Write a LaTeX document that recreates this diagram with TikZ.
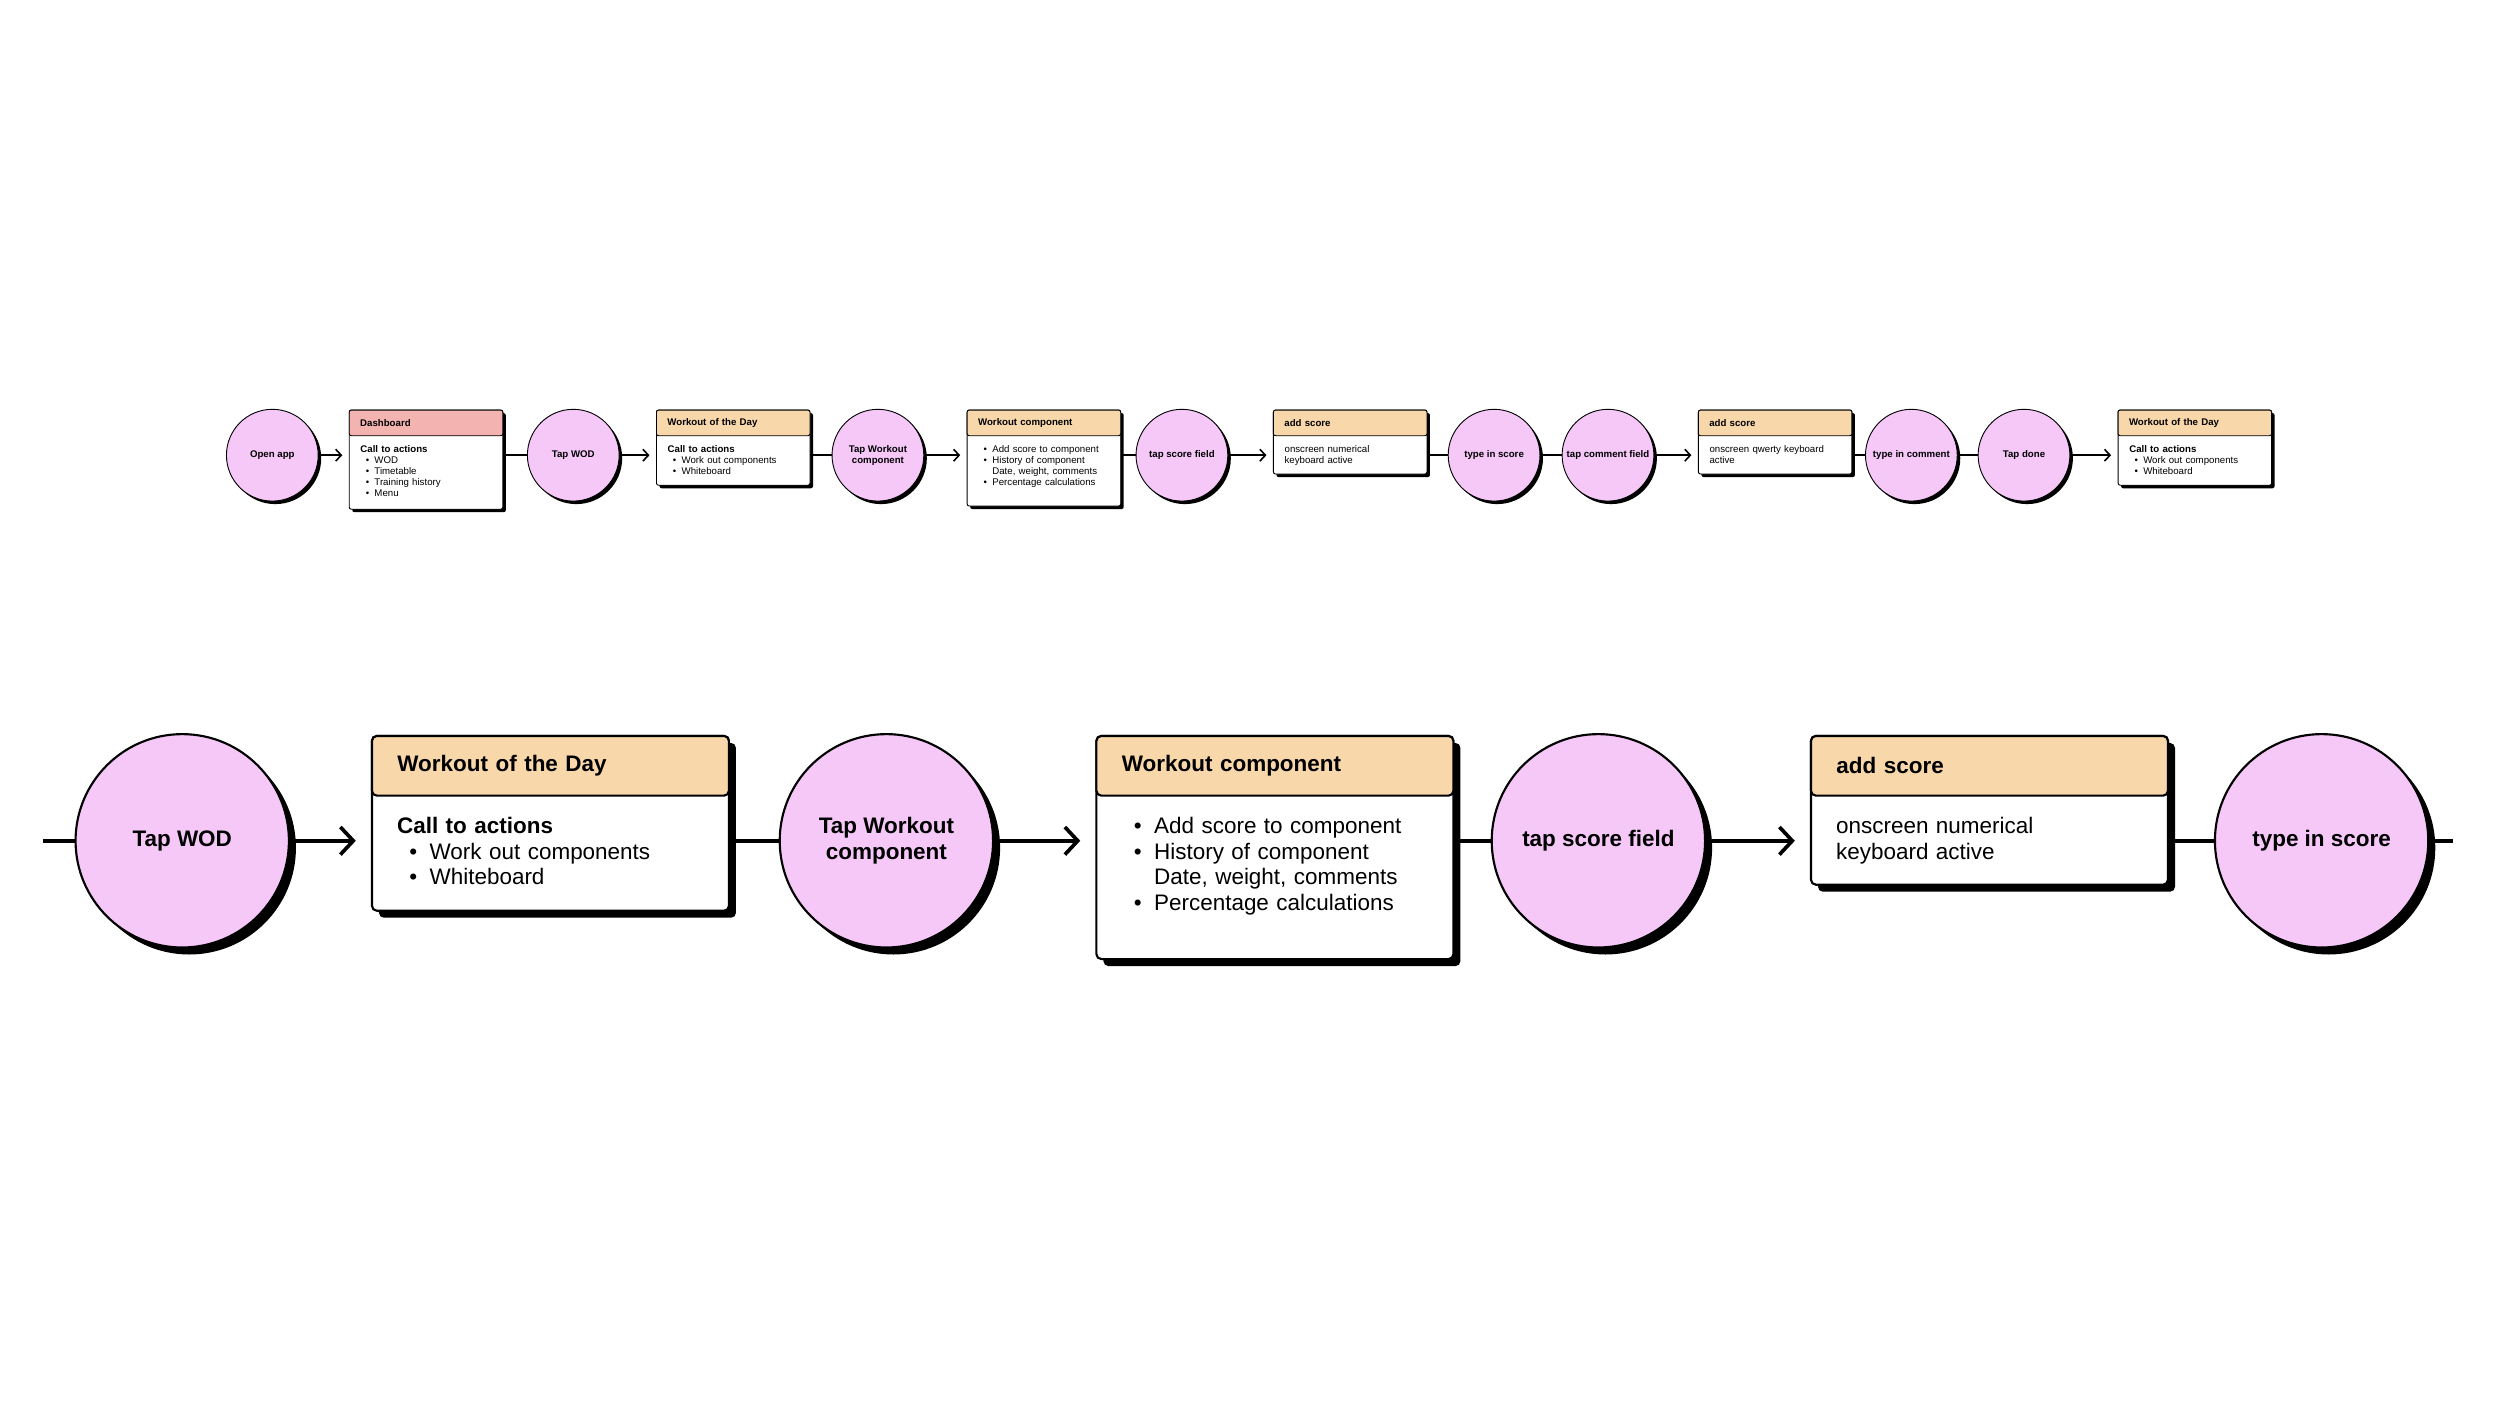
\documentclass[tikz,border=0pt]{standalone}
\usepackage{fontspec}
\setmainfont{Liberation Sans}
\usepackage{tikz}
\usetikzlibrary{shadows, arrows.meta}
\usepackage{xcolor}

\definecolor{tappink}{HTML}{F5C8F8}
\definecolor{headpeach}{HTML}{F8D7AA}
\definecolor{headrose}{HTML}{F2B3B1}

% sizes of one row, #1 = zoom factor
\newcommand\setrow[1]{%
  \pgfmathsetmacro\zf{#1}%
  \pgfmathsetmacro\fsz{2.75*#1}%
  \pgfmathsetmacro\bsk{3.12*#1}%
  \pgfmathsetlengthmacro\cardw{1.536cm*#1}%
  \pgfmathsetlengthmacro\padx{3.12pt*#1}%
  \pgfmathsetlengthmacro\textw{(1.536cm-6.24pt)*#1}%
  \pgfmathsetlengthmacro\headh{0.257cm*#1}%
  \pgfmathsetlengthmacro\pady{2.45pt*#1}%
  \pgfmathsetlengthmacro\lw{0.26pt*#1}%
  \pgfmathsetlengthmacro\cw{0.45pt*#1}%
  \pgfmathsetlengthmacro\rc{0.6pt*#1}%
  \pgfmathsetlengthmacro\gap{1.85pt*#1}%
  \pgfmathsetlengthmacro\shx{0.86pt*#1}%
}

\newcommand\itm{\hspace*{0.55em}\makebox[0.9em][l]{\textbullet}}
\newcommand\cont{\hspace*{1.45em}}

% name, position, height, header colour, title, body
\newcommand\card[6]{%
  \node[card, minimum height=#3cm*\zf] (#1) at #2 {};
  \node[head, fill=#4] (#1-t) at (#1.north west) {#5};
  \node[body] (#1-b) at (#1-t.south west) {#6};
}

\tikzset{
  shade drop/.style={drop shadow={shadow xshift=\shx, shadow yshift=-\shx, fill=black, opacity=1}},
  tap/.style={circle, draw, line width=\lw, fill=tappink, minimum size=\zf*0.918cm, inner sep=0pt,
    align=center, font=\bfseries\fontsize{\fsz}{\bsk}\selectfont, shade drop},
  card/.style={draw, line width=\lw, fill=white, rounded corners=\rc, minimum width=\cardw,
    anchor=north west, inner sep=0pt, shade drop},
  head/.style={draw, line width=\lw, rounded corners=\rc, minimum width=\cardw, text width=\textw,
    minimum height=\headh, inner xsep=\padx, inner ysep=0pt, anchor=north west, align=left,
    font=\bfseries\fontsize{\fsz}{\bsk}\selectfont},
  body/.style={text width=\textw, inner xsep=\padx, inner ysep=\pady, anchor=north west, align=left,
    font=\fontsize{\fsz}{\bsk}\selectfont},
  link/.style={line width=\cw},
  go/.style={link, -{Straight Barb[length=0pt 3.5, width=0pt 7.5]}, shorten >=\gap},
}

\begin{document}
\begin{tikzpicture}[x=0.016cm, y=-0.016cm]
\useasboundingbox (0,0) rectangle (1562.5,878.75);

% whole flow
\setrow{1}
\foreach \x/\n/\t in {170.2/open/Open app, 358.3/tapwod/Tap WOD, 548.7/tapwc/{Tap Workout\\component},
    738.7/tapsf/tap score field, 933.8/typesc/type in score, 1005/tapcf/tap comment field,
    1194.6/typecm/type in comment, 1265/tapdone/Tap done}
  \node[tap] (\n) at (\x,284.5) {\t};

\card{dash}{(218,256)}{0.992}{headrose}{Dashboard}
  {\textbf{Call to actions}\\\itm WOD\\\itm Timetable\\\itm Training history\\\itm Menu}
\card{wod}{(410,256)}{0.752}{headpeach}{Workout of the Day}
  {\textbf{Call to actions}\\\itm Work out components\\\itm Whiteboard}
\card{comp}{(604.2,256)}{0.96}{headpeach}{Workout component}
  {\itm Add score to component\\\itm History of component\\\cont Date, weight, comments\\\itm Percentage calculations}
\card{addnum}{(795.6,256)}{0.64}{headpeach}{add score}
  {onscreen numerical\\keyboard active}
\card{addkey}{(1061.2,256)}{0.64}{headpeach}{add score}
  {onscreen qwerty keyboard\\active}
\card{wodend}{(1323.5,256)}{0.752}{headpeach}{Workout of the Day}
  {\textbf{Call to actions}\\\itm Work out components\\\itm Whiteboard}

\draw[go] (open) -- (open -| dash.west);
\draw[link] (dash.east |- tapwod) -- (tapwod);
\draw[go] (tapwod) -- (tapwod -| wod.west);
\draw[link] (wod.east |- tapwc) -- (tapwc);
\draw[go] (tapwc) -- (tapwc -| comp.west);
\draw[link] (comp.east |- tapsf) -- (tapsf);
\draw[go] (tapsf) -- (tapsf -| addnum.west);
\draw[link] (addnum.east |- typesc) -- (typesc);
\draw[link] (typesc) -- (tapcf);
\draw[go] (tapcf) -- (tapcf -| addkey.west);
\draw[link] (addkey.east |- typecm) -- (typecm);
\draw[link] (typecm) -- (tapdone);
\draw[go] (tapdone) -- (tapdone -| wodend.west);

% close-up
\setrow{2.325}
\foreach \x/\n/\t in {113.9/btapwod/Tap WOD, 554/btapwc/{Tap Workout\\component},
    999/btapsf/tap score field, 1451/btypesc/type in score}
  \node[tap] (\n) at (\x,525.5) {\t};

\card{bwod}{(231.8,459.3)}{0.752}{headpeach}{Workout of the Day}
  {\textbf{Call to actions}\\\itm Work out components\\\itm Whiteboard}
\card{bcomp}{(684.6,459.3)}{0.96}{headpeach}{Workout component}
  {\itm Add score to component\\\itm History of component\\\cont Date, weight, comments\\\itm Percentage calculations}
\card{badd}{(1131.2,459.3)}{0.64}{headpeach}{add score}
  {onscreen numerical\\keyboard active}

\coordinate (bin) at (27,525.5);
\coordinate (bout) at (1533,525.5);

\draw[link] (bin) -- (btapwod);
\draw[go] (btapwod) -- (btapwod -| bwod.west);
\draw[link] (bwod.east |- btapwc) -- (btapwc);
\draw[go] (btapwc) -- (btapwc -| bcomp.west);
\draw[link] (bcomp.east |- btapsf) -- (btapsf);
\draw[go] (btapsf) -- (btapsf -| badd.west);
\draw[link] (badd.east |- btypesc) -- (btypesc);
\draw[link] (btypesc) -- (bout);
\end{tikzpicture}
\end{document}
